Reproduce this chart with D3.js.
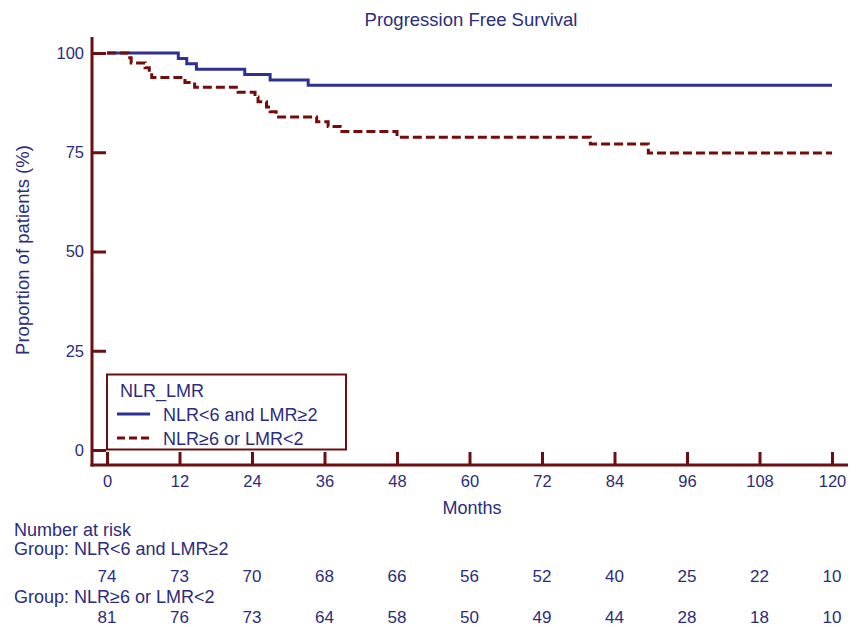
<!DOCTYPE html>
<html>
    <head>
        <meta charset="utf-8" />
        <title>Progression Free Survival</title>
        <script src="https://d3js.org/d3.v7.min.js"></script>
        <style>
            body {
                margin: 0px;
                background: white;
            }

            text {
                font-family: "Liberation Sans", Arial, sans-serif;
                fill: #2b2d7c;
            }

            .tick text {
                font-size: 16.5px;
            }
        </style>
    </head>
    <body>
        <svg id="chart">
            <g id="curves"></g>
            <g id="x"></g>
            <g id="y"></g>
            <g id="legend"></g>
            <g id="risk"></g>
        </svg>
        <script>

        var width = 857;
        var height = 627;

        var axisColor = "#6b0f12";
        var textColor = "#2b2d7c";

        // Kaplan-Meier steps (month, % surviving after the drop)
        var groups = ["NLR<6 and LMR\u22652", "NLR\u22656 or LMR<2"];
        var groupColors = ["#2e3192", "#760b0b"];
        var groupDash = [null, "9,4"];

        var timesLow = [0, 11.8, 13.2, 14.8, 22.8, 27.0, 33.3];
        var survLow = [100, 98.6, 97.3, 95.9, 94.6, 93.2, 91.9];

        var timesHigh = [0, 3.5, 4.0, 6.3, 7.0, 7.4, 12.9, 14.5, 21.7, 24.5, 25.0, 26.4, 27.0, 28.0, 34.7, 36.6, 38.6, 48.0, 80.0, 89.6];
        var survHigh = [100, 98.8, 97.5, 96.3, 95.1, 93.8, 92.6, 91.4, 90.1, 88.9, 87.7, 86.4, 85.2, 83.9, 82.7, 81.5, 80.2, 78.8, 77.1, 74.8];

        var followUpEnd = 120;

        var xTicks = [0, 12, 24, 36, 48, 60, 72, 84, 96, 108, 120];
        var yTicks = [0, 25, 50, 75, 100];

        var riskLow = [74, 73, 70, 68, 66, 56, 52, 40, 25, 22, 10];
        var riskHigh = [81, 76, 73, 64, 58, 50, 49, 44, 28, 18, 10];

        var svg = d3.select("#chart")
            .attr("width", width)
            .attr("height", height);

        var x = d3.scaleLinear()
            .domain([0, 120])
            .range([107, 832]);

        var y = d3.scaleLinear()
            .domain([0, 100])
            .range([450, 53]);

        var axisX = 92;
        var axisY = 465;

        // title
        svg.append("text")
            .attr("x", 471)
            .attr("y", 26)
            .attr("text-anchor", "middle")
            .style("font-size", "18.5px")
            .text("Progression Free Survival");

        // curves
        function toPoints(times, surv) {
            var pts = times.map(function(t, i) {
                return [t, surv[i]];
            });
            pts.push([followUpEnd, surv[surv.length - 1]]);
            return pts;
        }

        var line = d3.line()
            .curve(d3.curveStepAfter)
            .x(function(d) { return x(d[0]); })
            .y(function(d) { return y(d[1]); });

        var curveData = [toPoints(timesLow, survLow), toPoints(timesHigh, survHigh)];

        svg.select("#curves").selectAll("path")
            .data(curveData)
            .enter().append("path")
            .attr("d", line)
            .attr("fill", "none")
            .attr("stroke", function(d, i) { return groupColors[i]; })
            .attr("stroke-width", 3)
            .attr("stroke-dasharray", function(d, i) { return groupDash[i]; });

        // x axis
        var xAxis = d3.axisBottom(x)
            .tickValues(xTicks)
            .tickSizeInner(-13)
            .tickSizeOuter(0)
            .tickPadding(10);

        var gx = svg.select("#x")
            .attr("transform", "translate(0, " + axisY + ")")
            .call(xAxis);
        gx.select(".domain").remove();
        gx.selectAll(".tick line")
            .attr("stroke", axisColor)
            .attr("stroke-width", 3);
        gx.selectAll(".tick text")
            .attr("fill", textColor);
        gx.append("line")
            .attr("x1", axisX - 1.5)
            .attr("x2", 848)
            .attr("stroke", axisColor)
            .attr("stroke-width", 3);

        svg.append("text")
            .attr("x", 472)
            .attr("y", 514)
            .attr("text-anchor", "middle")
            .style("font-size", "18px")
            .text("Months");

        // y axis
        var yAxis = d3.axisLeft(y)
            .tickValues(yTicks)
            .tickSizeInner(-14)
            .tickSizeOuter(0)
            .tickPadding(8);

        var gy = svg.select("#y")
            .attr("transform", "translate(" + axisX + ", 0)")
            .call(yAxis);
        gy.select(".domain").remove();
        gy.selectAll(".tick line")
            .attr("stroke", axisColor)
            .attr("stroke-width", 3);
        gy.selectAll(".tick text")
            .attr("fill", textColor);
        gy.append("line")
            .attr("y1", 37)
            .attr("y2", axisY + 1.5)
            .attr("stroke", axisColor)
            .attr("stroke-width", 3);

        svg.append("text")
            .attr("transform", "translate(29, 250) rotate(-90)")
            .attr("text-anchor", "middle")
            .style("font-size", "18.5px")
            .text("Proportion of patients (%)");

        // legend
        var legend = svg.select("#legend");
        legend.append("rect")
            .attr("x", 107)
            .attr("y", 374.5)
            .attr("width", 239)
            .attr("height", 75)
            .attr("fill", "white")
            .attr("stroke", axisColor)
            .attr("stroke-width", 2);
        legend.append("text")
            .attr("x", 120)
            .attr("y", 397)
            .style("font-size", "18px")
            .text("NLR_LMR");

        var items = legend.selectAll(".item")
            .data(groups)
            .enter().append("g")
            .attr("class", "item")
            .attr("transform", function(d, i) {
                return "translate(0, " + (414 + i * 24) + ")";
            });
        items.append("line")
            .attr("x1", 117)
            .attr("x2", 150)
            .attr("stroke", function(d, i) { return groupColors[i]; })
            .attr("stroke-width", 3)
            .attr("stroke-dasharray", function(d, i) { return i === 1 ? "8,4" : null; });
        items.append("text")
            .attr("x", 163)
            .attr("y", 6.5)
            .style("font-size", "18px")
            .text(function(d) { return d; });

        // number at risk table
        var risk = svg.select("#risk");
        risk.append("text")
            .attr("x", 14)
            .attr("y", 536)
            .style("font-size", "18px")
            .text("Number at risk");

        var riskRows = [riskLow, riskHigh];
        var rowHeader = [555, 603];
        var rowNumbers = [582, 623];

        riskRows.forEach(function(row, r) {
            risk.append("text")
                .attr("x", 14)
                .attr("y", rowHeader[r])
                .style("font-size", "18px")
                .text("Group: " + groups[r]);

            risk.selectAll(".n" + r)
                .data(row)
                .enter().append("text")
                .attr("class", "n" + r)
                .attr("x", function(d, i) { return x(xTicks[i]); })
                .attr("y", rowNumbers[r])
                .attr("text-anchor", "middle")
                .style("font-size", "17px")
                .text(function(d) { return d; });
        });

        </script>
    </body>
</html>
